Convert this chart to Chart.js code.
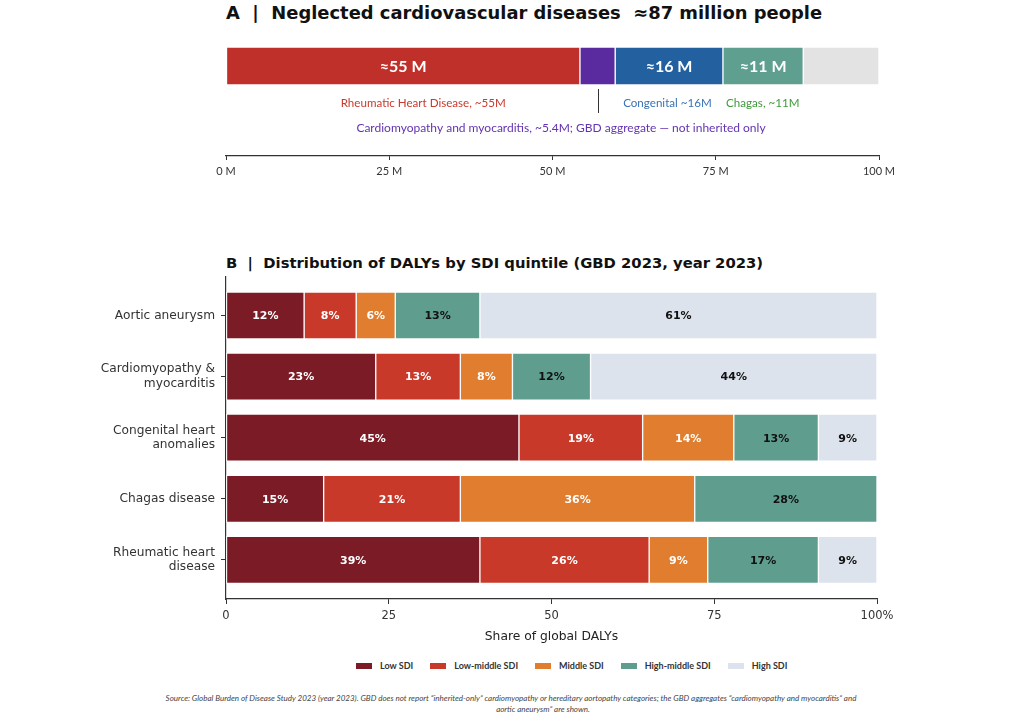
<!DOCTYPE html>
<html>
<head>
<meta charset="utf-8">
<script src="https://cdn.jsdelivr.net/npm/chart.js@4.4.1/dist/chart.umd.min.js"></script>
<style>
  body { margin: 0; background: #fff; width: 1024px; height: 721px; position: relative; overflow: hidden; }
  .title { position: absolute; left: 226px; font-family: "DejaVu Sans", sans-serif; font-weight: bold; color: #111; white-space: pre; }
  #titleA { top: 2px; font-size: 17.9px; line-height: 22px; }
  #titleB { top: 253px; font-size: 14.8px; line-height: 20px; }
  canvas { position: absolute; left: 0; }
  #chartA { top: 30px; }
  #chartB { top: 256px; }
  #legend { position: absolute; left: 356px; top: 660px; display: flex; align-items: center; font-family: Lato, sans-serif; font-weight: bold; font-size: 9px; color: #333; }
  #legend .item { display: flex; align-items: center; margin-right: 17px; }
  #legend .box { width: 16px; height: 6px; margin-right: 8px; }
  .src { position: absolute; font-family: Lato, sans-serif; font-style: italic; font-size: 8px; color: #444; white-space: nowrap; transform: translateX(-50%); }
</style>
</head>
<body>
<div id="titleA" class="title">A  |  Neglected cardiovascular diseases  ≈87 million people</div>
<canvas id="chartA" width="1024" height="170"></canvas>
<div id="titleB" class="title">B  |  Distribution of DALYs by SDI quintile (GBD 2023, year 2023)</div>
<canvas id="chartB" width="1024" height="394"></canvas>
<div id="legend"></div>
<div class="src" style="left:511px; top:693px;">Source: Global Burden of Disease Study 2023 (year 2023). GBD does not report “inherited-only” cardiomyopathy or hereditary aortopathy categories; the GBD aggregates “cardiomyopathy and myocarditis” and</div>
<div class="src" style="left:543px; top:704px;">aortic aneurysm” are shown.</div>

<script>
// ---- panel A: people affected (millions)
const groupNames = ["Rheumatic heart disease", "Cardiomyopathy and myocarditis", "Congenital", "Chagas", "Remainder"];
const groupMillions = [54.2, 5.4, 16.5, 12.3, 11.6];
const groupBarText = ["≈55 M", "", "≈16 M", "≈11 M", ""];
const groupColors = ["#c0302a", "#5a2b9f", "#22609f", "#5f9f90", "#e3e3e3"];
const millionTicks = [0, 25, 50, 75, 100];

// ---- panel B: share of DALYs by SDI quintile (%)
const diseases = [["Aortic aneurysm"], ["Cardiomyopathy &", "myocarditis"], ["Congenital heart", "anomalies"], ["Chagas disease"], ["Rheumatic heart", "disease"]];
const sdiNames = ["Low SDI", "Low-middle SDI", "Middle SDI", "High-middle SDI", "High SDI"];
const lowSDI = [12, 23, 45, 15, 39];
const lowMiddleSDI = [8, 13, 19, 21, 26];
const middleSDI = [6, 8, 14, 36, 9];
const highMiddleSDI = [13, 12, 13, 28, 17];
const highSDI = [61, 44, 9, 0, 9];
const sdiColors = ["#7a1b25", "#c9392a", "#e07d2e", "#5f9e8f", "#dde3ec"];
const sdiTextColors = ["#fff", "#fff", "#fff", "#111", "#111"];
const shareTicks = [0, 25, 50, 75, 100];

Chart.defaults.font.family = "'DejaVu Sans', sans-serif";
Chart.defaults.color = "#333";

// labels inside bars
const segmentText = {
  id: "segmentText",
  afterDatasetsDraw(chart) {
    const ctx = chart.ctx;
    ctx.save();
    ctx.textAlign = "center";
    ctx.textBaseline = "middle";
    chart.data.datasets.forEach((ds, i) => {
      const meta = chart.getDatasetMeta(i);
      meta.data.forEach((bar, j) => {
        const txt = ds.inside[j];
        if (!txt) return;
        const p = bar.getCenterPoint();
        ctx.fillStyle = ds.textColor;
        ctx.font = ds.textFont;
        ctx.fillText(txt, p.x, p.y + 1);
      });
    });
    ctx.restore();
  }
};

// annotations under the panel A bar
const notesA = {
  id: "notesA",
  afterDraw(chart) {
    const ctx = chart.ctx;
    const x = chart.scales.x;
    const y = chart.scales.y;
    const y0 = y.getPixelForValue(0);
    let acc = [0];
    groupMillions.forEach((v, i) => acc.push(acc[i] + v));
    ctx.save();
    ctx.textAlign = "center";
    ctx.textBaseline = "middle";
    ctx.font = "11.6px Lato, sans-serif";
    ctx.fillStyle = "#c73a2e";
    ctx.fillText("Rheumatic Heart Disease, ~55M", x.getPixelForValue(30.2), y0 + 37);
    ctx.fillStyle = "#3a72b6";
    ctx.fillText("Congenital ~16M", x.getPixelForValue(67.6), y0 + 37);
    ctx.fillStyle = "#3f9a3c";
    ctx.fillText("Chagas, ~11M", x.getPixelForValue(82.2), y0 + 37);
    ctx.fillStyle = "#6333b0";
    ctx.font = "12px Lato, sans-serif";
    ctx.fillText("Cardiomyopathy and myocarditis, ~5.4M; GBD aggregate — not inherited only", x.getPixelForValue(51.3), y0 + 62);
    // leader from the cardiomyopathy segment
    const lx = Math.round(x.getPixelForValue(acc[1] + groupMillions[1] / 2)) + 0.5;
    ctx.strokeStyle = "#333";
    ctx.lineWidth = 1;
    ctx.beginPath();
    ctx.moveTo(lx, y0 + 23);
    ctx.lineTo(lx, y0 + 47);
    ctx.stroke();
    ctx.restore();
  }
};

new Chart(document.getElementById("chartA"), {
  type: "bar",
  data: {
    datasets: groupMillions.map((v, i) => ({
      label: groupNames[i],
      data: [{ x: v, y: 0 }],
      inside: [groupBarText[i]],
      textColor: "#fff",
      textFont: "bold 16px Lato, sans-serif",
      backgroundColor: groupColors[i],
      borderColor: "#fff",
      borderWidth: 1,
      borderSkipped: false,
      barThickness: 38,
      stack: "people"
    }))
  },
  options: {
    indexAxis: "y",
    responsive: false,
    animation: false,
    layout: { padding: { left: 226, right: 145, top: 0, bottom: 0 } },
    plugins: { legend: { display: false }, tooltip: { enabled: false } },
    scales: {
      x: {
        type: "linear",
        stacked: true,
        min: 0,
        max: 100,
        afterBuildTicks: (s) => { s.ticks = millionTicks.map((v) => ({ value: v })); },
        afterFit: (s) => { s.height = 44; },
        ticks: { callback: (v) => v + " M", font: { family: "Lato, sans-serif", size: 11 }, color: "#333", padding: 5 },
        grid: { drawOnChartArea: false, drawTicks: true, tickLength: 4, color: "#333" },
        border: { display: true, color: "#333", width: 1.2 }
      },
      y: {
        type: "linear",
        reverse: true,
        offset: false,
        grid: { offset: false },
        min: -1,
        max: 2.5,
        display: false
      }
    }
  },
  plugins: [segmentText, notesA]
});

const sdiSeries = [lowSDI, lowMiddleSDI, middleSDI, highMiddleSDI, highSDI];

new Chart(document.getElementById("chartB"), {
  type: "bar",
  data: {
    datasets: sdiSeries.map((vals, i) => ({
      label: sdiNames[i],
      data: vals.map((v, j) => ({ x: v, y: j })),
      inside: vals.map((v) => (v > 0 ? v + "%" : "")),
      textColor: sdiTextColors[i],
      textFont: "bold 11px 'DejaVu Sans', sans-serif",
      backgroundColor: sdiColors[i],
      borderColor: "#fff",
      borderWidth: 1,
      borderSkipped: false,
      barThickness: 47,
      stack: "sdi"
    }))
  },
  options: {
    indexAxis: "y",
    responsive: false,
    animation: false,
    layout: { padding: { left: 0, right: 147, top: 21, bottom: 0 } },
    plugins: { legend: { display: false }, tooltip: { enabled: false } },
    scales: {
      x: {
        type: "linear",
        stacked: true,
        min: 0,
        max: 100,
        afterBuildTicks: (s) => { s.ticks = shareTicks.map((v) => ({ value: v })); },
        afterFit: (s) => { s.height = 51; },
        ticks: { callback: (v) => (v === 100 ? "100%" : String(v)), font: { size: 11.5 }, color: "#333", padding: 5 },
        title: { display: true, text: "Share of global DALYs", font: { size: 12.3 }, color: "#222", padding: { top: 4, bottom: 6 } },
        grid: { drawOnChartArea: false, drawTicks: true, tickLength: 5, color: "#333" },
        border: { display: true, color: "#333", width: 1.2 }
      },
      y: {
        type: "linear",
        reverse: true,
        offset: false,
        min: -0.63,
        max: 4.64,
        afterBuildTicks: (s) => { s.ticks = diseases.map((d, i) => ({ value: i })); },
        afterFit: (s) => { s.width = 226; },
        ticks: { callback: (v) => diseases[v] || "", font: { size: 12.2 }, color: "#333", padding: 6 },
        grid: { offset: false, drawOnChartArea: false, drawTicks: true, tickLength: 5, color: "#333" },
        border: { display: true, color: "#333", width: 1.2 }
      }
    }
  },
  plugins: [segmentText]
});

// legend
const legend = document.getElementById("legend");
sdiNames.forEach((name, i) => {
  const item = document.createElement("div");
  item.className = "item";
  const box = document.createElement("span");
  box.className = "box";
  box.style.background = sdiColors[i];
  const label = document.createElement("span");
  label.textContent = name;
  item.appendChild(box);
  item.appendChild(label);
  legend.appendChild(item);
});
</script>
</body>
</html>
